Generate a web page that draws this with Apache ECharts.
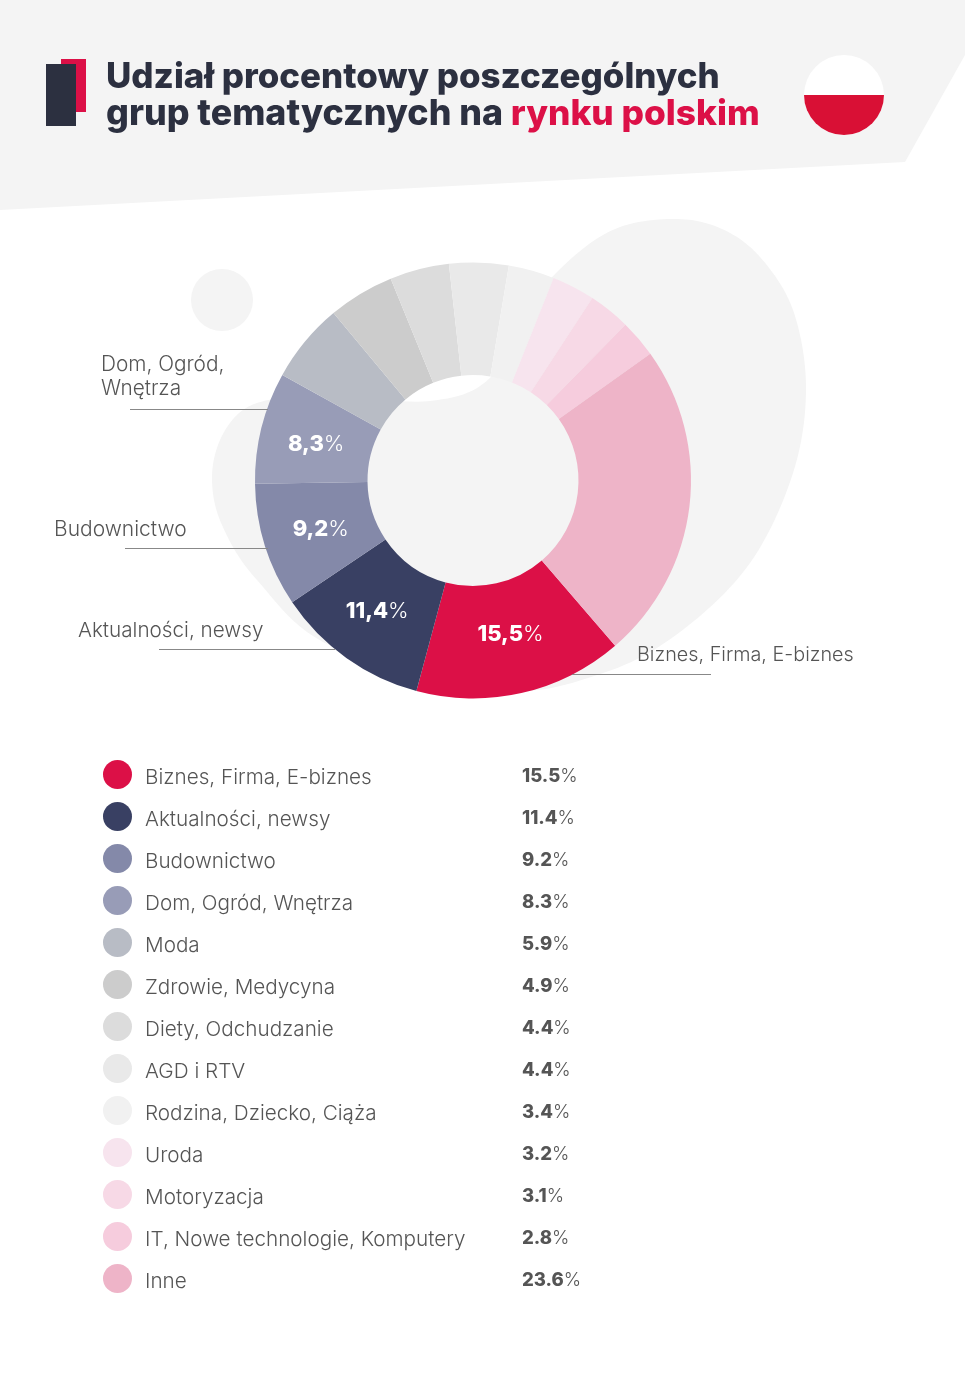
<!DOCTYPE html>
<html>
<head>
<meta charset="utf-8">
<title>Udział procentowy</title>
<script src="https://cdn.jsdelivr.net/npm/echarts@6/dist/echarts.min.js"></script>
<style>
html, body { margin: 0; padding: 0; background: #fff; }
#chart { width: 965px; height: 1379px; }
</style>
</head>
<body>
<div id="chart"></div>
<script>
var categories = ['Biznes, Firma, E-biznes', 'Aktualności, newsy', 'Budownictwo', 'Dom, Ogród, Wnętrza', 'Moda', 'Zdrowie, Medycyna', 'Diety, Odchudzanie', 'AGD i RTV', 'Rodzina, Dziecko, Ciąża', 'Uroda', 'Motoryzacja', 'IT, Nowe technologie, Komputery', 'Inne'];
var shares = [15.5, 11.4, 9.2, 8.3, 5.9, 4.9, 4.4, 4.4, 3.4, 3.2, 3.1, 2.8, 23.6];
var colors = ['#dc1047', '#394063', '#8489a9', '#989cb7', '#b8bcc5', '#cccccc', '#dcdcdc', '#e9e9e9', '#f1f1f1', '#f7e4ee', '#f7d9e6', '#f6ccdd', '#eeb4c8'];
var labelledSlices = 4;

var font = 'Inter';
var dark = '#2c3040', red = '#dc1047', grey = '#555555', pale = '#f4f4f4';

// przesunięcia etykiet w pierścieniu
var labelOffsets = [[1, -7], [0, -3], [5, 0], [3, 4]];

// kontur dużej plamy za wykresem (punkty węzłowe)
var blobAnchors = [[677, 219], [722, 229], [760, 257], [793, 310], [806, 388], [793, 473], [750, 563], [680, 632], [603, 673], [500, 690], [333, 647], [257, 580], [222, 525], [212, 480], [220, 440], [243, 410], [280, 398], [340, 396], [430, 401], [490, 378], [530, 305], [573, 257], [620, 227]];

// zamknięta krzywa Catmulla-Roma przez punkty węzłowe
function smoothOutline(pts, steps) {
    var out = [], n = pts.length;
    for (var i = 0; i < n; i++) {
        var p0 = pts[(i + n - 1) % n], p1 = pts[i], p2 = pts[(i + 1) % n], p3 = pts[(i + 2) % n];
        for (var s = 0; s < steps; s++) {
            var t = s / steps, t2 = t * t, t3 = t2 * t;
            out.push([0, 1].map(function (k) {
                return 0.5 * (2 * p1[k] + (p2[k] - p0[k]) * t + (2 * p0[k] - 5 * p1[k] + 4 * p2[k] - p3[k]) * t2 + (3 * p1[k] - p0[k] - 3 * p2[k] + p3[k]) * t3);
            }));
        }
    }
    return out;
}

// odnośniki przy wykresie
function callout(text, x, y, size, x1, x2, yLine) {
    return [
        { type: 'text', z: 5, style: { x: x, y: y, text: text, fill: grey, font: '300 ' + size + 'px ' + font, lineHeight: 24, textVerticalAlign: 'top' } },
        { type: 'line', z: 5, shape: { x1: x1, y1: yLine, x2: x2, y2: yLine }, style: { stroke: '#888', lineWidth: 1 } }
    ];
}

var chart = echarts.init(document.getElementById('chart'));
chart.setOption({
    animation: false,
    backgroundColor: '#fff',
    title: {
        left: 101, top: 55,
        text: '{a|Udział procentowy poszczególnych}\n{d|grup tematycznych na }{r|rynku polskim}',
        textStyle: {
            rich: {
                a: { color: dark, fontFamily: font, fontWeight: 800, fontSize: 34.9, lineHeight: 36 },
                d: { color: dark, fontFamily: font, fontWeight: 800, fontSize: 35.8, lineHeight: 36 },
                r: { color: red, fontFamily: font, fontWeight: 800, fontSize: 35.3, lineHeight: 36 }
            }
        }
    },
    graphic: [
        // tło nagłówka i plamy
        { type: 'polygon', z: -10, shape: { points: [[0, 0], [965, 0], [965, 55], [905, 162], [0, 210]] }, style: { fill: pale } },
        { type: 'circle', z: -10, shape: { cx: 222, cy: 300, r: 31 }, style: { fill: pale } },
        { type: 'polygon', z: -10, shape: { points: smoothOutline(blobAnchors, 12) }, style: { fill: pale } },
        // znaczek
        { type: 'rect', z: 4, shape: { x: 61, y: 59, width: 25, height: 53 }, style: { fill: red } },
        { type: 'rect', z: 4, shape: { x: 46, y: 64, width: 30, height: 62 }, style: { fill: dark } },
        // flaga
        { type: 'circle', z: 4, shape: { cx: 844, cy: 95, r: 40 }, style: { fill: '#fff' } },
        { type: 'sector', z: 4, shape: { cx: 844, cy: 95, r: 40, r0: 0, startAngle: 0, endAngle: Math.PI }, style: { fill: '#d91035' } }
    ].concat(
        callout('Dom, Ogród,\nWnętrza', 101, 353, 20.8, 130, 268, 409.5),
        callout(categories[2], 54, 518, 21, 125, 268, 548.5),
        callout(categories[1], 78, 619, 20.7, 159, 335, 649.5),
        callout(categories[0], 637, 643, 19.8, 572, 711, 674.5)
    ),
    legend: {
        orient: 'vertical',
        left: 103, top: 760,
        padding: 0,
        selectedMode: false,
        icon: 'circle',
        itemWidth: 29, itemHeight: 29, itemGap: 13,
        data: categories,
        formatter: function (name) {
            var v = shares[categories.indexOf(name)].toFixed(1);
            return '{n|' + name + '}{v|' + v + '}{p|%}';
        },
        textStyle: {
            rich: {
                n: { width: 377, padding: [6, 0, 0, 8], color: grey, fontFamily: font, fontWeight: 300, fontSize: 20.7 },
                v: { color: grey, fontFamily: font, fontWeight: 800, fontSize: 18.5, padding: [4, 0, 0, 0] },
                p: { color: grey, fontFamily: font, fontWeight: 300, fontSize: 18.5, padding: [4, 0, 0, 0] }
            }
        }
    },
    series: [{
        type: 'pie',
        center: [473, 480.5],
        radius: [105.5, 218],
        startAngle: -49.3,
        clockwise: true,
        avoidLabelOverlap: false,
        itemStyle: { borderWidth: 0 },
        labelLine: { show: false },
        label: { show: false },
        data: categories.map(function (name, i) {
            return {
                name: name,
                value: shares[i],
                itemStyle: { color: colors[i] },
                label: {
                    show: i < labelledSlices,
                    position: 'inside',
                    offset: labelOffsets[i],
                    formatter: function (p) {
                        return '{b|' + String(p.value).replace('.', ',') + '}{p|%}';
                    },
                    rich: {
                        b: { color: '#fff', fontFamily: font, fontWeight: 800, fontSize: 22 },
                        p: { color: '#fff', fontFamily: font, fontWeight: 300, fontSize: 22 }
                    }
                }
            };
        })
    }]
});
</script>
</body>
</html>
